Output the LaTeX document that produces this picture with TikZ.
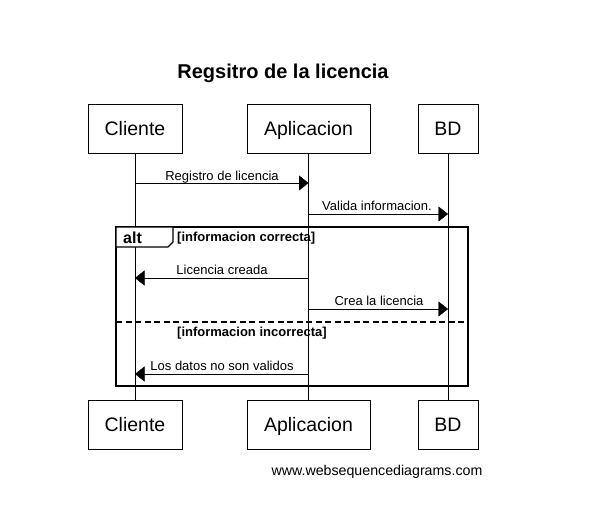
\documentclass[tikz,border=0pt]{standalone}
\usepackage{fontspec}
\setmainfont{Liberation Sans}
\usetikzlibrary{arrows.meta}
\tikzset{
  actor/.style={draw, minimum height=49pt, inner sep=0pt, text height=14pt, text depth=0pt, font=\fontsize{19.5}{20}\selectfont},
  msg/.style={-{Triangle[length=9.5pt,width=15pt]}},
  msgtext/.style={font=\fontsize{13}{14}\selectfont, inner sep=0pt, anchor=base},
  guard/.style={font=\bfseries\fontsize{13}{14}\selectfont, inner sep=0pt, anchor=base west}
}
\begin{document}
\begin{tikzpicture}[x=1pt,y=-1pt]
	\useasboundingbox (0,0) rectangle (598,523);
	%titulo
	\node (title) at (283,73) [font=\bfseries\fontsize{20}{22}\selectfont] {Regsitro de la licencia};
	%participantes
	\node (cliTop) at (135,128.5) [actor, minimum width=94pt] {Cliente};
	\node (appTop) at (308.5,128.5) [actor, minimum width=123pt] {Aplicacion};
	\node (bdTop) at (448,128.5) [actor, minimum width=60pt] {BD};
	\node (cliBot) at (135,424.5) [actor, minimum width=94pt] {Cliente};
	\node (appBot) at (308.5,424.5) [actor, minimum width=123pt] {Aplicacion};
	\node (bdBot) at (448,424.5) [actor, minimum width=60pt] {BD};
	%lineas de vida
	\draw (cliTop) -- (cliBot);
	\draw (appTop) -- (appBot);
	\draw (bdTop) -- (bdBot);
	%mensajes
	\draw [msg] (cliTop |- 0,183) -- (appTop |- 0,183);
	\node (m1) at (222,180) [msgtext] {Registro de licencia};
	\draw [msg] (appTop |- 0,214) -- (bdTop |- 0,214);
	\node (m2) at (377,210) [msgtext] {Valida informacion.};
	%bloque alt
	\draw [line width=2pt] (116,227) rectangle (468,386);
	\draw [line width=1.2pt, fill=white] (116,227) -- (173,227) -- (173,242) -- (168,247) -- (116,247) -- cycle;
	\node (alt) at (123,243) [font=\bfseries\fontsize{16}{17}\selectfont, inner sep=0pt, anchor=base west] {alt};
	\node (g1) at (177,241) [guard] {[informacion correcta]};
	\draw [msg] (appTop |- 0,278) -- (cliTop |- 0,278);
	\node (m3) at (222,274) [msgtext] {Licencia creada};
	\draw [msg] (appTop |- 0,309) -- (bdTop |- 0,309);
	\node (m4) at (379,305) [msgtext] {Crea la licencia};
	\draw [line width=1.6pt, dash pattern=on 6pt off 3.5pt] (116,322) -- (468,322);
	\node (g2) at (177,336) [guard] {[informacion incorrecta]};
	\draw [msg] (appTop |- 0,374) -- (cliTop |- 0,374);
	\node (m5) at (222,370) [msgtext] {Los datos no son validos};
	%pie
	\node (web) at (377,472) [font=\fontsize{14.2}{15}\selectfont] {www.websequencediagrams.com};
\end{tikzpicture}
\end{document}
